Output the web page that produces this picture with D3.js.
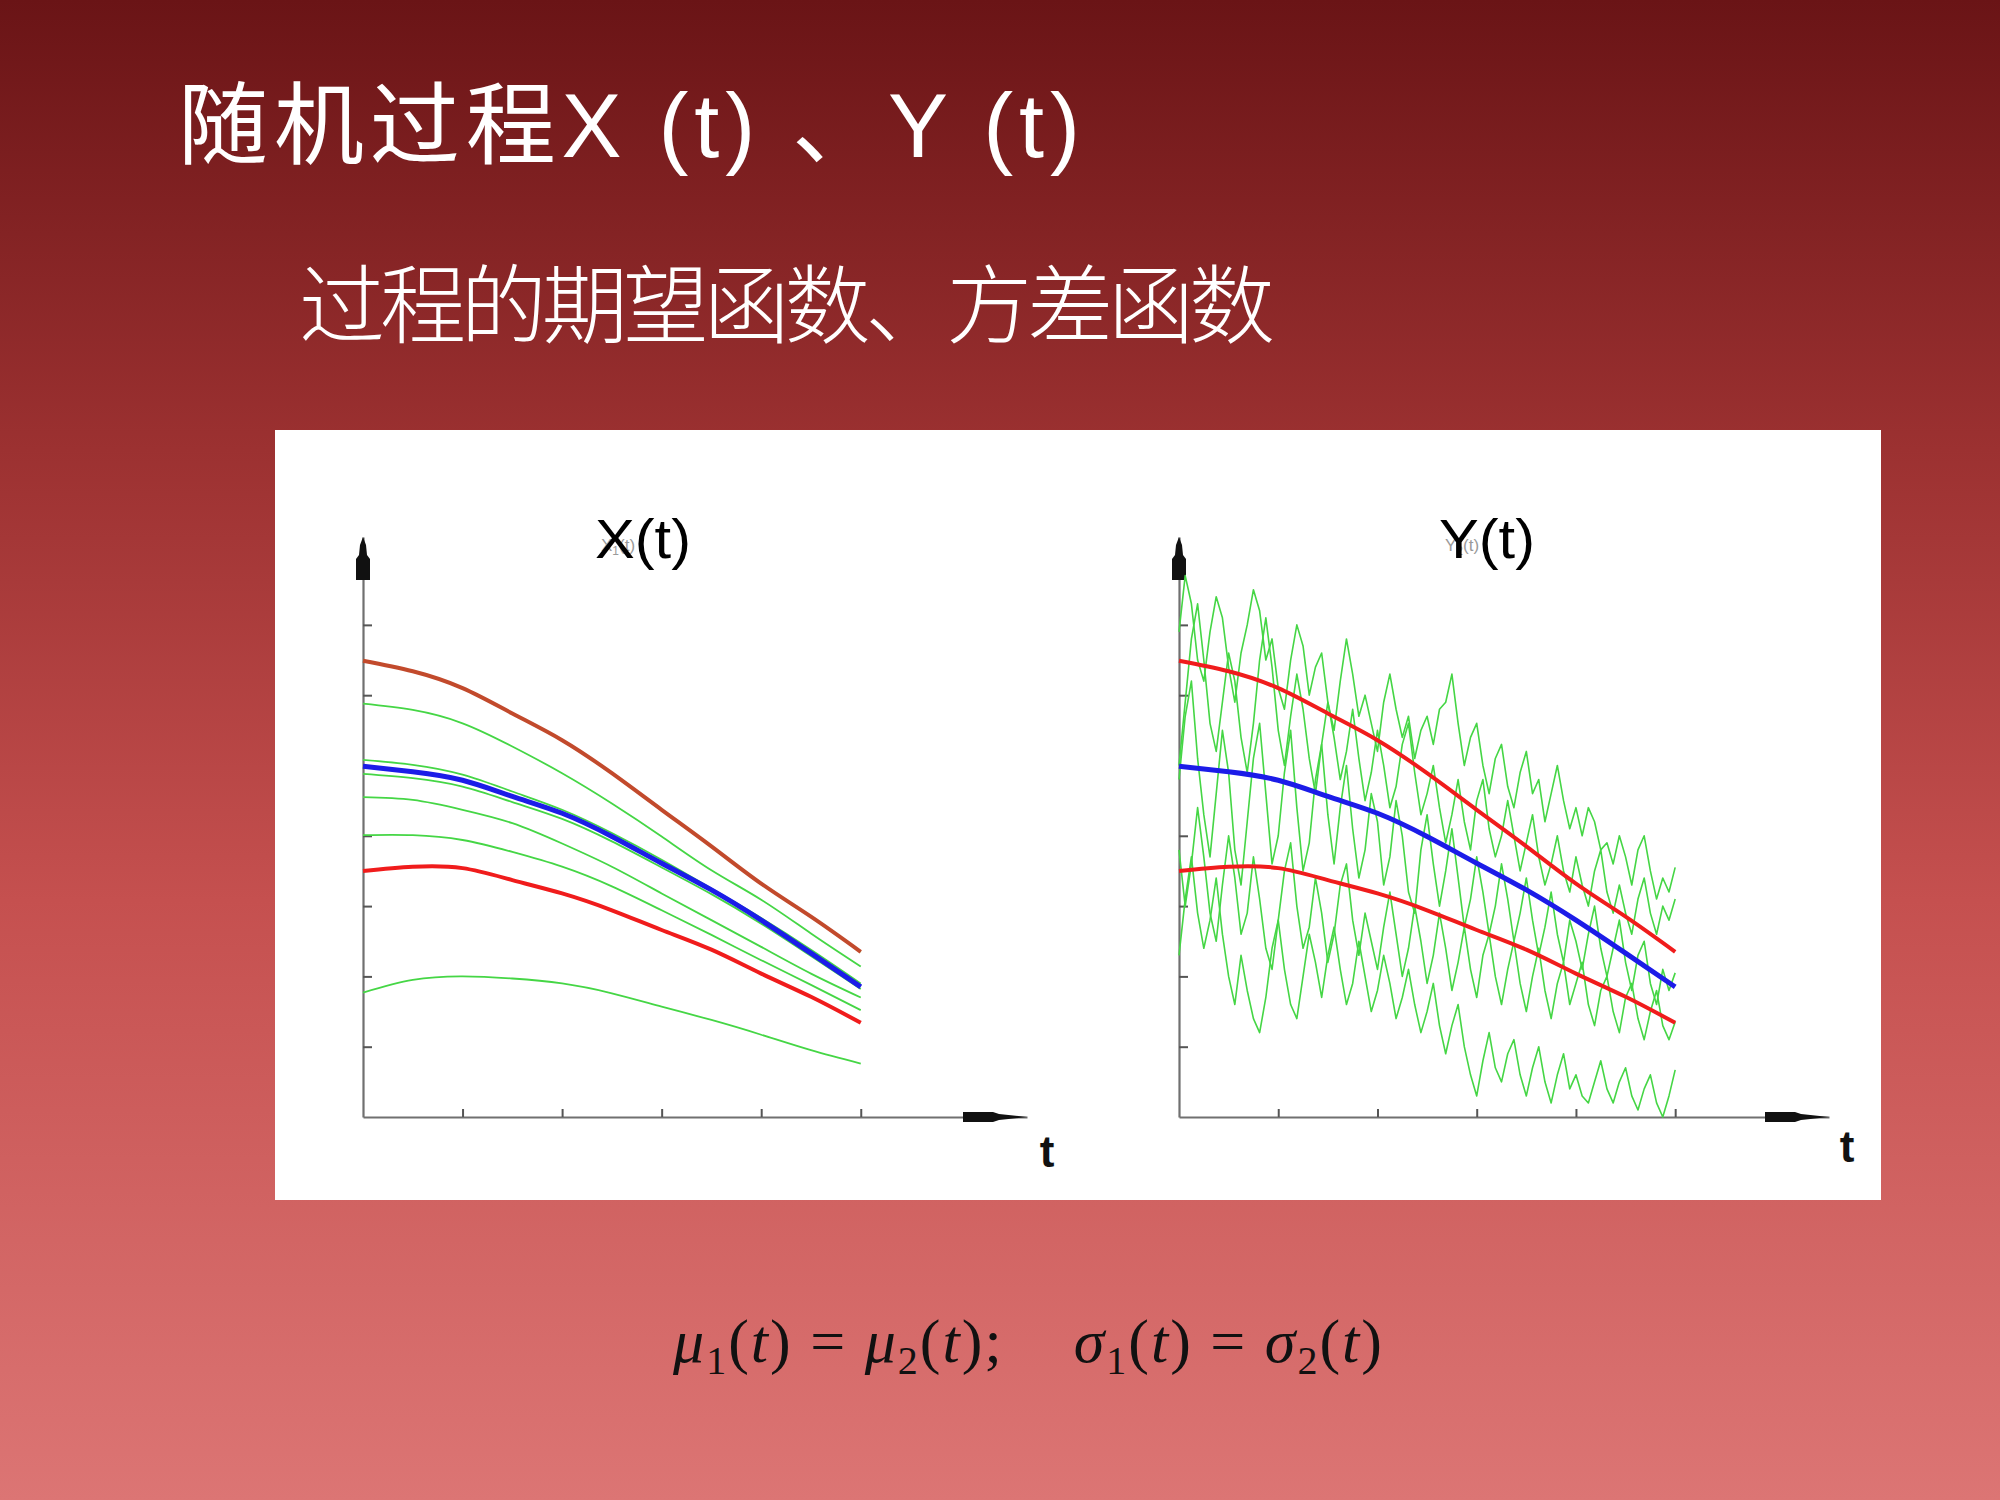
<!DOCTYPE html>
<html>
<head>
<meta charset="utf-8">
<script src="https://cdn.jsdelivr.net/npm/d3@7"></script>
<style>
  html, body { margin: 0; padding: 0; background: #fff; }
  svg { display: block; }
</style>
</head>
<body>
<div id="slide"></div>
<script>
// Sample times for the smooth curves (left chart, and the bands on the right)
const tSmooth = [0, 0.5, 1, 1.5, 2, 2.5, 3, 3.5, 4, 4.5, 5];

// mean and mean +/- sigma, shared by both processes
const upperBand = [6.49, 6.34, 6.10, 5.74, 5.36, 4.89, 4.37, 3.85, 3.32, 2.85, 2.35];
const meanCurve = [4.99, 4.91, 4.79, 4.56, 4.32, 3.99, 3.61, 3.23, 2.80, 2.33, 1.85];
const lowerBand = [3.50, 3.56, 3.54, 3.37, 3.18, 2.94, 2.66, 2.38, 2.04, 1.71, 1.34];

// sample paths of X(t) (smooth)
const xPath1 = [5.88, 5.79, 5.60, 5.27, 4.89, 4.46, 3.99, 3.51, 3.09, 2.61, 2.14];
const xPath2 = [5.08, 5.01, 4.87, 4.63, 4.37, 4.04, 3.66, 3.25, 2.83, 2.38, 1.90];
const xPath3 = [4.88, 4.82, 4.70, 4.48, 4.24, 3.92, 3.55, 3.17, 2.75, 2.29, 1.82];
const xPath4 = [4.55, 4.51, 4.37, 4.18, 3.89, 3.56, 3.18, 2.80, 2.42, 2.04, 1.70];
const xPath5 = [4.01, 4.01, 3.94, 3.77, 3.56, 3.28, 2.94, 2.59, 2.23, 1.88, 1.52];
const xPath6 = [1.77, 1.95, 2.00, 1.97, 1.90, 1.76, 1.57, 1.38, 1.17, 0.95, 0.76];

// sample paths of Y(t) (noisy), one value every 1/16 of a time unit
const yPathA = [6.9, 7.7, 7.3, 6.5, 6.2, 6.9, 7.4, 7.1, 6.4, 5.9, 6.6, 7.0, 7.5, 7.2, 6.5, 6.8,
  6.1, 5.8, 6.5, 7.0, 6.7, 6.0, 6.4, 6.6, 5.9, 5.5, 6.2, 6.8, 6.3, 5.7, 6.0, 5.6,
  5.2, 5.9, 6.3, 5.8, 5.4, 5.7, 5.1, 5.5, 5.7, 5.3, 5.8, 5.9, 6.3, 5.6, 5.0, 5.4,
  5.6, 5.0, 4.6, 5.1, 5.3, 4.7, 4.4, 4.9, 5.2, 4.6, 4.8, 4.2, 4.6, 5.0, 4.5, 4.1,
  4.4, 4.0, 4.4, 4.2, 3.8, 3.9, 3.6, 4.0, 3.7, 3.3, 3.8, 4.0, 3.5, 3.1, 3.4, 3.2, 3.55];
const yPathB = [5.0, 5.9, 6.8, 7.3, 6.5, 5.6, 5.2, 5.9, 6.6, 6.2, 5.4, 4.9, 5.6, 6.5, 7.1, 6.4,
  5.5, 5.0, 5.7, 6.3, 5.8, 5.1, 4.6, 5.3, 5.9, 5.4, 4.8, 5.2, 5.8, 5.1, 4.5, 4.9,
  5.5, 5.0, 4.4, 4.7, 5.3, 5.6, 4.9, 4.3, 4.6, 5.0, 4.4, 3.9, 4.3, 4.8, 4.2, 3.8,
  4.5, 4.8, 4.1, 3.7, 4.0, 4.5, 4.0, 3.5, 3.9, 4.3, 3.7, 3.3, 3.6, 4.0, 3.5, 3.2,
  3.7, 3.3, 3.0, 3.5, 3.8, 3.2, 2.9, 3.3, 2.9, 2.6, 3.1, 3.4, 2.9, 2.6, 3.0, 2.8, 3.1];
const yPathC = [4.8, 5.7, 6.2, 5.1, 4.3, 3.7, 4.6, 5.5, 4.9, 3.8, 3.3, 4.2, 5.1, 5.6, 4.6, 3.6,
  4.0, 4.9, 5.5, 4.4, 3.5, 3.9, 4.8, 5.3, 4.3, 3.6, 4.4, 5.0, 4.1, 3.4, 3.8, 4.6,
  4.2, 3.3, 3.7, 4.5, 4.0, 3.2, 2.9, 3.8, 4.3, 3.6, 3.0, 3.5, 4.1, 3.4, 2.7, 3.1,
  3.7, 3.2, 2.6, 3.0, 3.6, 3.1, 2.5, 2.9, 3.4, 2.8, 2.3, 2.7, 3.2, 2.6, 2.2, 2.8,
  2.5, 2.1, 2.6, 3.0, 2.4, 2.0, 2.4, 2.8, 2.2, 1.8, 2.3, 2.5, 1.9, 1.6, 2.1, 1.8, 2.05];
const yPathD = [3.8, 3.0, 3.6, 4.4, 3.7, 2.9, 2.5, 3.3, 4.0, 3.4, 2.6, 2.9, 3.7, 3.1, 2.4, 2.1,
  2.8, 3.5, 3.9, 3.0, 2.4, 2.7, 3.4, 2.9, 2.2, 2.6, 3.3, 3.6, 2.8, 2.3, 2.9, 2.5,
  2.1, 2.7, 3.2, 2.6, 2.0, 2.4, 3.0, 2.5, 1.9, 2.3, 2.9, 2.4, 1.8, 2.2, 2.7, 2.1,
  1.7, 2.3, 2.6, 2.0, 1.6, 2.1, 2.5, 1.9, 1.5, 2.0, 2.4, 1.8, 1.4, 1.9, 2.2, 1.6,
  1.9, 2.2, 1.6, 1.3, 1.8, 2.0, 1.5, 1.2, 1.7, 1.9, 1.4, 1.1, 1.5, 1.8, 1.3, 1.1, 1.35];
const yPathE = [2.3, 3.1, 3.7, 2.9, 2.4, 2.8, 3.4, 2.6, 2.0, 1.6, 2.3, 1.8, 1.4, 1.2, 1.7, 2.4,
  2.8, 2.1, 1.6, 1.4, 2.0, 2.6, 2.2, 1.7, 2.3, 2.7, 2.1, 1.6, 1.9, 2.5, 2.0, 1.5,
  1.8, 2.3, 1.9, 1.4, 1.7, 2.1, 1.6, 1.2, 1.5, 1.9, 1.3, 0.9, 1.3, 1.6, 1.0, 0.6,
  0.3, 0.8, 1.2, 0.7, 0.5, 0.9, 1.1, 0.6, 0.3, 0.7, 1.0, 0.5, 0.2, 0.6, 0.9, 0.4,
  0.6, 0.3, 0.2, 0.5, 0.8, 0.4, 0.2, 0.5, 0.7, 0.3, 0.1, 0.4, 0.6, 0.2, 0.0, 0.3, 0.67];

const yTicks = [1, 2, 3, 4, 5, 6, 7];
const tTicks = [1, 2, 3, 4, 5];

const titleText = '随机过程X (t) 、Y (t)';
const subtitleText = '过程的期望函数、方差函数';

const W = 2000, H = 1500;
const green = '#45d645';
const red = '#f01c1c';
const blue = '#1c1ce8';

const svg = d3.select('#slide')
    .append('svg')
    .attr('width', W)
    .attr('height', H);

// Background gradient
const defs = svg.append('defs');
const grad = defs.append('linearGradient')
    .attr('id', 'bg')
    .attr('x1', 0).attr('y1', 0).attr('x2', 0).attr('y2', 1);
grad.append('stop').attr('offset', '0%').attr('stop-color', '#6a1416');
grad.append('stop').attr('offset', '30%').attr('stop-color', '#9c3131');
grad.append('stop').attr('offset', '60%').attr('stop-color', '#c5504f');
grad.append('stop').attr('offset', '100%').attr('stop-color', '#dc7574');

svg.append('rect')
    .attr('width', W)
    .attr('height', H)
    .attr('fill', 'url(#bg)');

// Titles
svg.append('text')
    .attr('x', 178)
    .attr('y', 157)
    .attr('font-family', '"Liberation Sans", "Noto Sans CJK SC", sans-serif')
    .attr('font-size', 90)
    .attr('fill', '#fff')
    .attr('textLength', 902)
    .attr('lengthAdjust', 'spacing')
    .text(titleText);

svg.append('text')
    .attr('x', 299)
    .attr('y', 337)
    .attr('font-family', '"Noto Sans CJK SC", sans-serif')
    .attr('font-weight', 300)
    .attr('font-size', 86)
    .attr('fill', '#fff')
    .attr('textLength', 976)
    .attr('lengthAdjust', 'spacing')
    .text(subtitleText);

// White picture panel
svg.append('rect')
    .attr('x', 275)
    .attr('y', 430)
    .attr('width', 1606)
    .attr('height', 770)
    .attr('fill', '#fff');

function drawPanel(opts) {
    const x = d3.scaleLinear().domain([0, opts.tMax]).range([opts.x0, opts.xEnd]);
    const y = d3.scaleLinear().domain([0, 8.25]).range([1117, 537]);
    const g = svg.append('g');

    const smooth = d3.line()
        .x((d, i) => x(tSmooth[i]))
        .y(d => y(d))
        .curve(d3.curveNatural);

    const noisyT = d3.range(81).map(k => k / 16);
    const noisy = d3.line()
        .x((d, i) => x(noisyT[i]))
        .y(d => y(d));

    // axes
    const yAxis = g.append('g')
        .attr('transform', `translate(${opts.x0},0)`)
        .call(d3.axisRight(y).tickValues(yTicks).tickSize(9).tickSizeOuter(0).tickFormat(''));
    const xAxis = g.append('g')
        .attr('transform', `translate(0,${y(0)})`)
        .call(d3.axisTop(x).tickValues(tTicks).tickSize(8).tickSizeOuter(0).tickFormat(''));
    [yAxis, xAxis].forEach(a => {
        a.select('.domain').attr('stroke', '#707070').attr('stroke-width', 2.2);
        a.selectAll('.tick line').attr('stroke', '#555').attr('stroke-width', 2);
    });

    // arrow heads
    const top = y(8.25), x0 = opts.x0;
    g.append('path')
        .attr('d', `M${x0},${top} L${x0 - 3},${top + 8} L${x0 - 4},${top + 18} L${x0 - 7},${top + 22} L${x0 - 7},${top + 43} L${x0 + 7},${top + 43} L${x0 + 7},${top + 22} L${x0 + 4},${top + 18} L${x0 + 3},${top + 8} Z`)
        .attr('fill', '#111');
    const xe = opts.xEnd, y0 = y(0);
    g.append('path')
        .attr('d', `M${xe},${y0} L${xe - 28},${y0 - 3} L${xe - 34},${y0 - 5} L${xe - 64},${y0 - 5} L${xe - 64},${y0 + 5} L${xe - 34},${y0 + 5} L${xe - 28},${y0 + 3} Z`)
        .attr('fill', '#111');

    g.append('text')
        .attr('x', opts.tLabelX)
        .attr('y', opts.tLabelY)
        .attr('text-anchor', 'middle')
        .attr('font-family', '"Liberation Sans", Arial, sans-serif')
        .attr('font-weight', 'bold')
        .attr('font-size', 44)
        .attr('fill', '#111')
        .text('t');

    // title with the faint label of the original plot underneath
    const ghost = g.append('text')
        .attr('x', opts.titleX + 6)
        .attr('y', 551)
        .attr('font-family', '"Liberation Sans", Arial, sans-serif')
        .attr('font-size', 17)
        .attr('fill', '#9a9a9a');
    ghost.append('tspan').text(opts.ghost[0]);
    ghost.append('tspan').attr('font-size', 12).attr('dy', 4).text(opts.ghost[1]);
    ghost.append('tspan').attr('dy', -4).text('(t)');

    g.append('text')
        .attr('x', opts.titleX)
        .attr('y', 558)
        .attr('font-family', '"Liberation Sans", Arial, sans-serif')
        .attr('font-size', 56)
        .attr('fill', '#000')
        .attr('textLength', 96)
        .attr('lengthAdjust', 'spacingAndGlyphs')
        .text(opts.title);

    // sample paths
    opts.smoothPaths.forEach(p => {
        g.append('path')
            .datum(p)
            .attr('d', smooth)
            .attr('fill', 'none')
            .attr('stroke', green)
            .attr('stroke-width', 1.8);
    });
    opts.noisyPaths.forEach(p => {
        g.append('path')
            .datum(p)
            .attr('d', noisy)
            .attr('fill', 'none')
            .attr('stroke', green)
            .attr('stroke-width', 1.6)
            .attr('stroke-linejoin', 'round');
    });

    // mean +/- sigma and mean
    [upperBand, lowerBand].forEach((p, i) => {
        g.append('path')
            .datum(p)
            .attr('d', smooth)
            .attr('fill', 'none')
            .attr('stroke', (opts.brownUpper && i === 0) ? '#c24a2c' : red)
            .attr('stroke-width', 4);
    });
    g.append('path')
        .datum(meanCurve)
        .attr('d', smooth)
        .attr('fill', 'none')
        .attr('stroke', blue)
        .attr('stroke-width', 5);
}

drawPanel({
    x0: 363, xEnd: 1027, tMax: 6.67,
    tLabelX: 1047, tLabelY: 1167,
    titleX: 595, title: 'X(t)', ghost: ['X', '1'],
    smoothPaths: [upperBand, xPath1, xPath2, xPath3, xPath4, xPath5, xPath6],
    noisyPaths: [],
    brownUpper: true
});

drawPanel({
    x0: 1179, xEnd: 1829, tMax: 6.55,
    tLabelX: 1847, tLabelY: 1162,
    titleX: 1439, title: 'Y(t)', ghost: ['Y', '2'],
    smoothPaths: [],
    noisyPaths: [yPathA, yPathB, yPathC, yPathD, yPathE],
    brownUpper: false
});

// Formula at the bottom
const formulaParts = [
    ['μ', 'i'], ['1', 's'], ['(', 'n'], ['t', 'i'], [')', 'n'], [' = ', 'n'],
    ['μ', 'i'], ['2', 's'], ['(', 'n'], ['t', 'i'], [');', 'n'], ['\u00a0\u00a0\u00a0\u00a0', 'n'],
    ['σ', 'i'], ['1', 's'], ['(', 'n'], ['t', 'i'], [')', 'n'], [' = ', 'n'],
    ['σ', 'i'], ['2', 's'], ['(', 'n'], ['t', 'i'], [')', 'n']
];
const formula = svg.append('text')
    .attr('x', 673)
    .attr('y', 1362)
    .attr('font-family', '"Liberation Serif", "Times New Roman", serif')
    .attr('font-size', 62)
    .attr('fill', '#111')
    .attr('textLength', 709)
    .attr('lengthAdjust', 'spacing');
let shifted = false;
formulaParts.forEach(([s, kind]) => {
    const ts = formula.append('tspan').text(s);
    if (kind === 'i') ts.attr('font-style', 'italic');
    if (kind === 's') {
        ts.attr('font-size', 40).attr('dy', 12);
        shifted = true;
    } else if (shifted) {
        ts.attr('dy', -12);
        shifted = false;
    }
});
</script>
</body>
</html>
